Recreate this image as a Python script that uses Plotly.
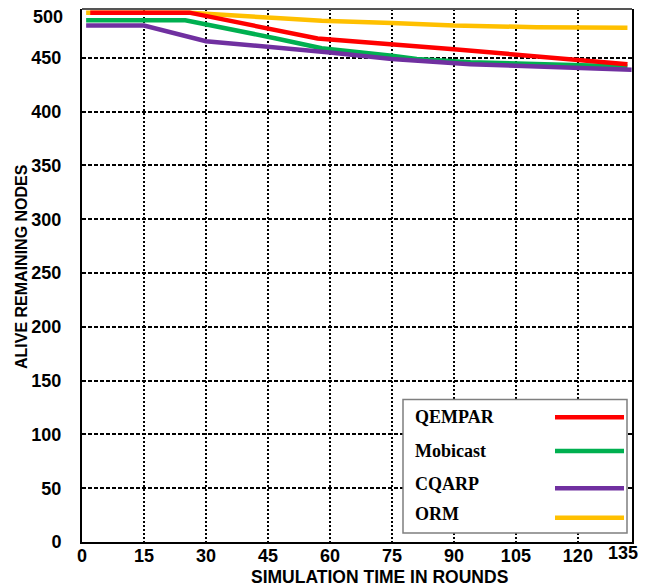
import plotly.graph_objects as go

# ---- data -------------------------------------------------------------
series_names = ["QEMPAR", "Mobicast", "CQARP", "ORM"]
series_colors = ["#FF0000", "#00B050", "#7030A0", "#FFC000"]

qempar_x = [2, 26, 57, 90, 132]
qempar_y = [492, 492, 468, 458, 444]

mobicast_x = [1, 25, 47, 58, 75, 81, 94, 132]
mobicast_y = [485, 485, 468, 459, 452, 449, 446, 442]

cqarp_x = [1, 15, 30, 47, 60, 75, 82, 94, 133]
cqarp_y = [480, 480, 465.5, 460, 455, 449, 447, 444, 439]

orm_x = [1, 26, 47, 58, 75, 90, 110, 132]
orm_y = [492, 492, 487, 484.5, 482.5, 480, 478.5, 478]

x_ticks = [0, 15, 30, 45, 60, 75, 90, 105, 120]
y_ticks = [0, 50, 100, 150, 200, 250, 300, 350, 400, 450]

# ---- layout constants -------------------------------------------------
W, H = 649, 586
ML, MR, MT, MB = 82, 17, 9, 44
PW, PH = W - ML - MR, H - MT - MB


def px(xpix):
    return (xpix - ML) / PW


def py(ypix):
    return (MT + PH - ypix) / PH


tick_font = dict(family="Liberation Sans, Arial", size=18, color="black", weight="bold")
legend_font = dict(family="Liberation Serif, Times New Roman", size=18, color="black", weight="bold")

fig = go.Figure()

data = {
    "QEMPAR": (qempar_x, qempar_y),
    "Mobicast": (mobicast_x, mobicast_y),
    "CQARP": (cqarp_x, cqarp_y),
    "ORM": (orm_x, orm_y),
}
colors = dict(zip(series_names, series_colors))

# draw order: ORM underneath, QEMPAR on top
for name in ["ORM", "Mobicast", "CQARP", "QEMPAR"]:
    xs, ys = data[name]
    fig.add_trace(go.Scatter(
        x=xs, y=ys, mode="lines", name=name,
        line=dict(color=colors[name], width=4.5),
        showlegend=False,
    ))

fig.update_xaxes(
    range=[0, 133.1],
    tickvals=x_ticks,
    ticktext=[str(v) for v in x_ticks],
    tickfont=tick_font,
    ticklabelstandoff=-4,
    showgrid=True, gridcolor="black", gridwidth=1.6, griddash="2px,2px",
    showline=True, linecolor="black", linewidth=2, mirror=False,
    ticks="", zeroline=False,
)
fig.update_yaxes(
    range=[0, 495.4],
    tickvals=y_ticks,
    ticktext=[str(v) for v in y_ticks],
    tickfont=tick_font,
    ticklabelstandoff=15,
    showgrid=True, gridcolor="black", gridwidth=1.5, griddash="4px,2px",
    showline=True, linecolor="black", linewidth=2, mirror=True,
    ticks="", zeroline=False,
)

shapes = []
# top border of the frame
shapes.append(dict(type="line", xref="paper", yref="paper", x0=0, x1=1, y0=1, y1=1,
                   line=dict(color="#555555", width=2), layer="above"))

# legend box
shapes.append(dict(type="rect", xref="paper", yref="paper",
                   x0=px(403), x1=px(627), y0=py(533), y1=py(399.5),
                   fillcolor="white", line=dict(color="#7f7f7f", width=1.5), layer="above"))

legend_text_y = [417.3, 451, 484.3, 514.3]
legend_line_y = [417.3, 451, 488.3, 517.7]
annotations = []
for name, ty, ly in zip(series_names, legend_text_y, legend_line_y):
    shapes.append(dict(type="line", xref="paper", yref="paper",
                       x0=px(555), x1=px(624), y0=py(ly), y1=py(ly),
                       line=dict(color=colors[name], width=4.5), layer="above"))
    annotations.append(dict(text=name, xref="paper", yref="paper", x=px(413), y=py(ty),
                            xanchor="left", yanchor="middle", showarrow=False, font=legend_font))

# end labels of the axes
annotations.append(dict(text="500", xref="paper", yref="paper", x=0, y=py(16.7),
                        xanchor="right", yanchor="middle", xshift=-17, showarrow=False, font=tick_font))
annotations.append(dict(text="135", xref="x", yref="paper", x=131, y=py(553),
                        xanchor="center", yanchor="middle", showarrow=False, font=tick_font))

# axis titles
title_font = dict(family="Liberation Sans, Arial", size=17, color="black", weight="bold")
annotations.append(dict(text="SIMULATION TIME IN ROUNDS", xref="paper", yref="paper",
                        x=px(379), y=py(577), xanchor="center", yanchor="middle",
                        showarrow=False, font=dict(title_font, size=17.5)))
annotations.append(dict(text="ALIVE REMAINING NODES", xref="paper", yref="paper",
                        x=px(21.5), y=py(266.5), xanchor="center", yanchor="middle",
                        textangle=-90, showarrow=False, font=dict(title_font, size=16)))

fig.update_layout(
    width=W, height=H,
    margin=dict(l=ML, r=MR, t=MT, b=MB),
    paper_bgcolor="white", plot_bgcolor="white",
    shapes=shapes, annotations=annotations,
    showlegend=False,
)

fig.write_html("out.html")
